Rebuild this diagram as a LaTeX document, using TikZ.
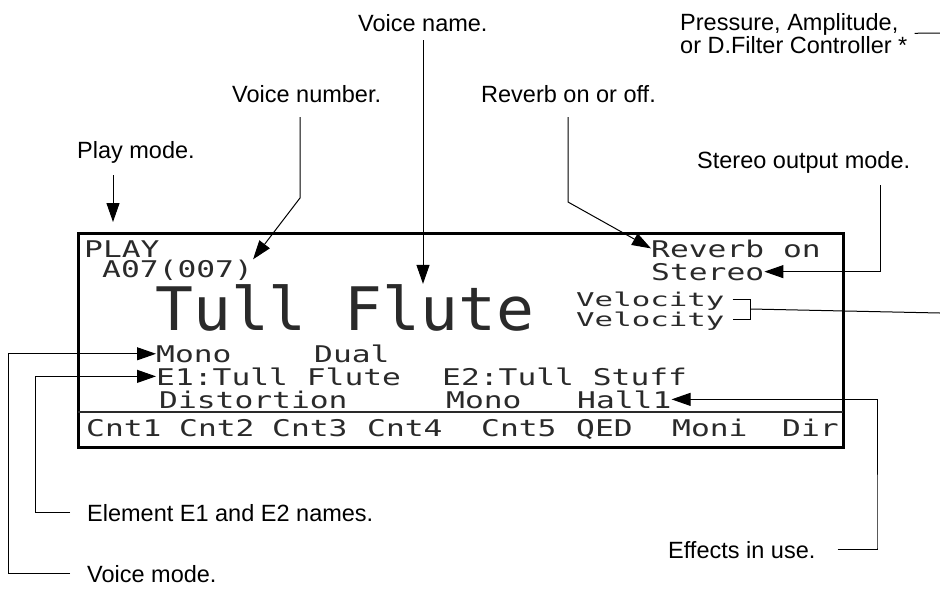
\documentclass[tikz,border=0pt]{standalone}
\usepackage{fontspec}
\setmainfont{Liberation Sans}
\newfontfamily\lcdfont[FakeStretch=1.36]{DejaVu Sans Mono}
\newfontfamily\lcdnarrow[FakeStretch=1.62]{DejaVu Sans Mono}
\newfontfamily\lcdbig[FakeStretch=1.05]{DejaVu Sans Mono}
\usetikzlibrary{arrows.meta, positioning, calc}
\definecolor{lcdink}{HTML}{2A2A2A}
\tikzset{
  callout/.style={font=\fontsize{23.5}{16}\selectfont, inner sep=0pt,
    anchor=base west, align=left},
  lcdtext/.style={font=\lcdfont\fontsize{23}{23}\selectfont, text=lcdink,
    inner sep=0pt, anchor=base west},
  lcdsmall/.style={font=\lcdnarrow\fontsize{19}{19}\selectfont, text=lcdink,
    inner sep=0pt, text height=14pt, text depth=0pt, anchor=base west},
  lcdlarge/.style={font=\lcdbig\fontsize{60}{60}\selectfont, text=lcdink,
    inner sep=0pt, text depth=0pt, anchor=base west},
  pointer/.style={-{Triangle[length=19pt,width=13pt]}, line width=1pt},
  leader/.style={line width=1pt}
}

\begin{document}
\begin{tikzpicture}[x=1pt, y=-1pt]
  \useasboundingbox (0,0) rectangle (940,590);
  % Display frame
  \draw[line width=3pt] (78,233) rectangle (843,447);
  \draw[lcdink, line width=2pt] (78,412) -- (843,412);
  % Display contents
  \node[lcdtext] (play) at (84,257) {PLAY};
  \node[lcdtext] (voicenum) at (102,277) {A07(007)};
  \node[lcdtext] (reverb) at (651,257) {Reverb on};
  \node[lcdtext] (stereo) at (651,280) {Stereo};
  \node[lcdlarge] (flute) at (155,330) {Tull Flute};
  \node[lcdsmall] (velA) at (576,306) {Velocity};
  \node[lcdsmall] (velB) at (576,326) {Velocity};
  \node[lcdtext] (mono) at (156,362) {Mono};
  \node[lcdtext] (dual) at (314,362) {Dual};
  \node[lcdtext] (eone) at (156,385) {E1:Tull Flute};
  \node[lcdtext] (etwo) at (442,385) {E2:Tull Stuff};
  \node[lcdtext] (dist) at (159,408) {Distortion};
  \node[lcdtext] (outmono) at (446,408) {Mono};
  \node[lcdtext] (hall) at (577,408) {Hall1};
  % Soft keys
  \node[lcdtext] (cntA) at (86,436) {Cnt1};
  \node[lcdtext] (cntB) at (179,436) {Cnt2};
  \node[lcdtext] (cntC) at (272,436) {Cnt3};
  \node[lcdtext] (cntD) at (367,436) {Cnt4};
  \node[lcdtext] (cntE) at (481,436) {Cnt5};
  \node[lcdtext] (qed) at (576,436) {QED};
  \node[lcdtext] (moni) at (672,436) {Moni};
  \node[lcdtext] (dir) at (782,436) {Dir};
  % Callouts
  \node[callout] (namelbl) at (358,31) {Voice name.};
  \node[callout] (numlbl) at (232,102) {Voice number.};
  \node[callout] (playlbl) at (77,158) {Play mode.};
  \node[callout] (reverblbl) at (481,102) {Reverb on or off.};
  \node[callout] (stereolbl) at (697,168) {Stereo output mode.};
  \node[callout, anchor=north west] (ctrllbl) at (680,13)
    {Pressure, Amplitude,\\or D.Filter Controller *};
  \node[callout] (elemlbl) at (87,521) {Element E1 and E2 names.};
  \node[callout] (modelbl) at (87,582) {Voice mode.};
  \node[callout] (effectlbl) at (668,558) {Effects in use.};
  % Free ends
  \coordinate (nametop) at (423,40);
  \coordinate (numtop) at (300,117);
  \coordinate (numbend) at (300,198);
  \coordinate (playtop) at (113,175);
  \coordinate (playtip) at (113,222);
  \coordinate (reverbtop) at (568,117);
  \coordinate (reverbbend) at (568,202);
  \coordinate (stereotop) at (880,185);
  \coordinate (effectbend) at (877,548);
  \coordinate (elemx) at (35,0);
  \coordinate (modex) at (8,0);
  \coordinate (rimA) at (940,33);
  \coordinate (rimB) at (940,313);
  % Arrows
  \draw[pointer] (nametop) -- (nametop |- flute.north);
  \draw[pointer] (numtop) -- (numbend) -- (voicenum.north east);
  \draw[pointer] (playtop) -- (playtip);
  \draw[pointer] (reverbtop) -- (reverbbend) -- (reverb.west);
  \draw[pointer] (stereotop) |- (stereo.east);
  \draw[pointer] ($(effectlbl.east)+(22,0)$) -| (effectbend) |- (hall.east);
  \draw[pointer] ($(elemlbl.west)+(-17,0)$) -| (elemx |- eone.west) -- (eone.west);
  \draw[pointer] ($(modelbl.west)+(-17,0)$) -| (modex |- mono.west) -- (mono.west);
  % Velocity bracket
  \draw[leader] ($(velA.east)+(8,0)$) -| ($(velB.east)+(26,0)$) -- ($(velB.east)+(8,0)$);
  \draw[leader] ($(velA.east)!0.5!(velB.east)+(26,0)$) -- (rimB);
  \draw[leader] ($(ctrllbl.east)+(7,0)$) -- (rimA);
\end{tikzpicture}
\end{document}
